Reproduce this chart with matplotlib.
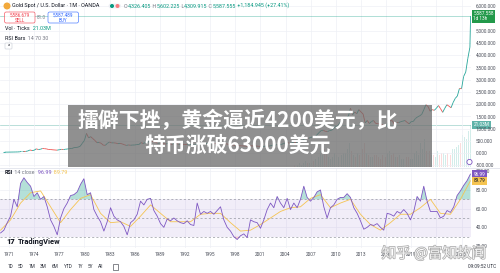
"""Gold spot monthly chart (TradingView style) with RSI pane and a news banner."""

import matplotlib
matplotlib.use("Agg")
import matplotlib.patheffects as pe
import matplotlib.pyplot as plt
import numpy as np
from matplotlib.collections import LineCollection
from matplotlib.patches import Circle, FancyBboxPatch, Rectangle

W, H = 500, 273

# quarterly closes 1970 Q1 .. 2025 Q4
price_close = [
    35.5, 35.5, 36.0, 37.4,
    38.9, 40.1, 42.0, 43.6,
    48.3, 65.0, 65.0, 64.9,
    84.0, 123.0, 103.0, 112.0,
    170.0, 143.0, 152.0, 186.0,
    177.0, 166.0, 141.0, 140.0,
    130.0, 123.0, 116.0, 134.0,
    149.0, 141.0, 154.0, 165.0,
    181.0, 183.0, 218.0, 226.0,
    240.0, 277.0, 397.0, 512.0,
    800.0, 620.0, 667.0, 590.0,
    513.0, 422.0, 428.0, 400.0,
    320.0, 315.0, 397.0, 448.0,
    414.0, 416.0, 405.0, 382.0,
    395.0, 373.0, 341.0, 309.0,
    329.0, 317.0, 326.0, 327.0,
    344.0, 345.0, 424.0, 391.0,
    420.0, 448.0, 460.0, 484.0,
    456.0, 436.0, 396.0, 410.0,
    385.0, 373.0, 367.0, 401.0,
    369.0, 352.0, 408.0, 386.0,
    355.0, 367.0, 354.0, 353.0,
    341.0, 343.0, 349.0, 333.0,
    337.0, 376.0, 355.0, 391.0,
    390.0, 388.0, 395.0, 383.0,
    391.0, 387.0, 384.0, 387.0,
    396.0, 382.0, 379.0, 369.0,
    349.0, 334.0, 332.0, 290.0,
    301.0, 296.0, 294.0, 288.0,
    280.0, 261.0, 299.0, 290.0,
    278.0, 288.0, 273.0, 272.0,
    258.0, 271.0, 293.0, 279.0,
    301.0, 318.0, 323.0, 342.0,
    334.0, 346.0, 388.0, 417.0,
    427.0, 395.0, 415.0, 438.0,
    428.0, 437.0, 473.0, 513.0,
    582.0, 613.0, 599.0, 632.0,
    662.0, 650.0, 743.0, 834.0,
    916.0, 930.0, 884.0, 870.0,
    916.0, 927.0, 1000.0, 1087.0,
    1113.0, 1245.0, 1307.0, 1420.0,
    1439.0, 1500.0, 1830.0, 1565.0,
    1668.0, 1604.0, 1772.0, 1675.0,
    1595.0, 1234.0, 1327.0, 1202.0,
    1283.0, 1327.0, 1211.0, 1199.0,
    1183.0, 1171.0, 1115.0, 1060.0,
    1232.0, 1320.0, 1315.0, 1151.0,
    1249.0, 1241.0, 1279.0, 1302.0,
    1325.0, 1252.0, 1192.0, 1281.0,
    1292.0, 1409.0, 1472.0, 1517.0,
    1577.0, 1768.0, 1970.0, 1898.0,
    1707.0, 1770.0, 1742.0, 1829.0,
    1937.0, 1807.0, 1660.0, 1824.0,
    1969.0, 1912.0, 1849.0, 2063.0,
    2230.0, 2326.0, 2634.0, 2624.0,
    3123.0, 3303.0, 3858.0, 4320.0,
]
last_close = 5587.555  # open Jan 2026 candle

# tick volume (millions), quarterly from 2005 Q1, last entry is Jan 2026
vol_start = 2005
vol_ticks = [
    1, 1, 2, 1, 2, 3, 2, 2, 2, 3, 4, 5, 8, 6, 9, 7,
    5, 4, 5, 7, 6, 5, 6, 7, 7, 9, 12, 8, 6, 5, 7, 6,
    9, 12, 7, 6, 5, 5, 6, 6, 5, 4, 6, 5, 7, 8, 6, 7,
    5, 5, 6, 4, 4, 5, 5, 4, 4, 7, 8, 6, 12, 9, 14, 8,
    8, 6, 6, 5, 8, 6, 7, 7, 6, 7, 6, 9, 9, 10, 11, 12,
    16, 15, 14, 18, 21.03,
]

# RSI(14) read at even steps from Jan 1970 to Jan 2026
rsi_vals = [
    34, 37, 45, 52, 70, 62, 87, 93, 88, 84,
    73, 77, 70, 73, 62, 48, 41, 32, 50, 60,
    66, 74, 75, 78, 86, 92, 75, 77, 59, 52,
    46, 36, 46, 61, 52, 48, 46, 41, 32, 45,
    48, 54, 68, 64, 70, 71, 58, 52, 44, 40,
    49, 47, 50, 47, 45, 44, 47, 43, 42, 66,
    54, 57, 55, 57, 54, 58, 62, 48, 40, 36,
    30, 27, 31, 33, 29, 48,
    46, 45, 39, 48, 59, 66, 61, 73, 66, 61,
    71, 59, 66, 61, 70, 84, 72, 68, 72, 78,
    80, 62, 50, 61, 64, 70, 72, 72, 76, 72,
    61, 55, 47, 38, 40, 43, 42, 44, 40, 37,
    55, 54, 52, 57, 55, 59, 55, 48, 57, 73,
    68, 84, 68, 57, 57, 57, 50, 52, 58, 56,
    62, 74, 79, 85, 90, 96.99,
]
rsi_sma = [
    37, 48, 66, 77, 79, 62, 45, 59, 71, 75, 55, 45, 46,
    41, 52, 64, 55, 46, 46, 46, 54, 55, 55, 45, 36, 37,
    43, 50, 57, 61, 62, 71, 75, 61, 66, 70, 54,
    43, 37, 45, 54, 54, 61, 70, 55, 54, 70, 89.79,
]

year_ticks = list(range(1971, 2026, 3))
price_ticks = [-500, 0, 500, 1000, 1500, 2000, 2500, 3000, 3500, 4000, 4500, 5000, 6000]
rsi_ticks = [20, 40, 60, 80, 100]
ranges = ["1D", "5D", "1M", "3M", "6M", "YTD", "1Y", "5Y", "All"]

title_lines = ["擂僻下挫，黄金逼近4200美元，比", "特币涨破63000美元"]
watermark = "知乎 @富知故闻"

DARK = "#131722"
GREY = "#787b86"
TEAL = "#089981"
UP = "#26a69a"
DOWN = "#ef5350"
RED = "#f23645"
BLUE = "#2962ff"
PURPLE = "#7e57c2"
YELLOW = "#f5c451"
GRID = "#eef0f5"
LEG = 3.9
TICK = 3.4

plt.rcParams["font.family"] = ["Roboto", "DejaVu Sans"]


def frac(x0, y0, x1, y1):
    """Pixel box (top-left origin) -> figure fraction rect."""
    return [x0 / W, 1 - y1 / H, (x1 - x0) / W, (y1 - y0) / H]


def text_run(ax, x, y, parts, size=LEG):
    """Draw several coloured pieces of text one after another."""
    s, c, *rest = parts[0]
    t = ax.text(x, y, s, color=c, fontsize=size, va="center", ha="left",
                fontweight=rest[0] if rest else "normal")
    for s, c, *rest in parts[1:]:
        t = ax.annotate(s, xy=(1, 0), xycoords=t, va="bottom", ha="left", color=c,
                        fontsize=size, fontweight=rest[0] if rest else "normal")
    return t


def side_label(ax, y, s, fc, tc="white"):
    ax.text(1.005, y, s, transform=ax.get_yaxis_transform(), ha="left", va="center",
            fontsize=TICK, color=tc, linespacing=1.0, clip_on=False, zorder=6,
            bbox=dict(boxstyle="square,pad=0.3", fc=fc, ec="none"))


fig = plt.figure(figsize=(W / 100, H / 100), dpi=100)
fig.patch.set_facecolor("white")

x_lim = (1969.93, 2026.13)

# ---- volume (behind the price pane)
ax_vol = fig.add_axes(frac(0, 0, 471, 167))
ax_vol.set_zorder(0)
n_before = (vol_start - 1970) * 4
vol_x, vol_c = [], []
for i, v in enumerate(vol_ticks):
    k = n_before + i
    if k < len(price_close):
        vol_x.append(vol_start + (i + 0.5) / 4)
        up = price_close[k] >= price_close[k - 1]
    else:
        vol_x.append(2026.04)
        up = last_close >= price_close[-1]
    vol_c.append(UP if up else DOWN)
ax_vol.bar(vol_x, vol_ticks, width=0.12, color=vol_c, alpha=0.2, linewidth=0)
ax_vol.axhline(vol_ticks[-1], color="#5fb3a9", lw=0.5, alpha=0.6)
ax_vol.set_xlim(*x_lim)
ax_vol.set_ylim(0, 83.6)
ax_vol.axis("off")

# ---- price pane
ax = fig.add_axes(frac(0, 0, 471, 167))
ax.set_zorder(1)
ax.patch.set_visible(False)
p = np.array(price_close + [last_close])
t = 1970 + (np.arange(len(price_close)) + 1) / 4
t = np.append(t, 2026.08)
pts = np.column_stack([t, p])
segs = np.stack([pts[:-1], pts[1:]], axis=1)
seg_c = [UP if b >= a else DOWN for a, b in zip(p[:-1], p[1:])]
ax.add_collection(LineCollection(segs, colors=seg_c, linewidths=0.6))
ax.axhline(last_close, color=TEAL, lw=0.5, alpha=0.45)
ax.set_xlim(*x_lim)
ax.set_ylim(-571, 6245)
ax.set_xticks(year_ticks)
ax.set_yticks(price_ticks)
ax.set_yticklabels([f"{v:,.3f}" for v in price_ticks])
ax.yaxis.tick_right()
ax.tick_params(axis="x", length=0, labelbottom=False)
ax.tick_params(axis="y", length=0, pad=3.5, labelsize=TICK, labelcolor="#4a4e59")
ax.grid(True, color=GRID, lw=0.5)
ax.set_axisbelow(True)
for sp in ax.spines.values():
    sp.set_visible(False)
side_label(ax, last_close, "5,587.558\n1d 13h", "#22994a")
side_label(ax_vol, vol_ticks[-1], "21.03M", "#5fb3a9")

# ---- RSI pane
ax_rsi = fig.add_axes(frac(0, 168, 471, 248))
rsi_t = np.linspace(1970, 2026.06, len(rsi_vals))
sma_t = np.linspace(1970, 2026.06, len(rsi_sma))
r = np.array(rsi_vals)
ax_rsi.axhspan(30, 70, color=PURPLE, alpha=0.1, lw=0)
for lvl in (70, 50, 30):
    ax_rsi.axhline(lvl, color="#9598a1", lw=0.5, ls=(0, (3, 3)))
ax_rsi.fill_between(rsi_t, r, 70, where=r > 70, interpolate=True, color=TEAL, alpha=0.3, lw=0)
ax_rsi.fill_between(rsi_t, r, 30, where=r < 30, interpolate=True, color=RED, alpha=0.25, lw=0)
ax_rsi.plot(sma_t, rsi_sma, color=YELLOW, lw=0.6)
ax_rsi.plot(rsi_t, r, color=PURPLE, lw=0.6)
ax_rsi.set_xlim(*x_lim)
ax_rsi.set_ylim(17.9, 103.5)
ax_rsi.set_xticks(year_ticks)
ax_rsi.set_xticklabels([str(y) for y in year_ticks])
ax_rsi.set_yticks(rsi_ticks)
ax_rsi.set_yticklabels([f"{v:.2f}" for v in rsi_ticks])
ax_rsi.yaxis.tick_right()
ax_rsi.tick_params(axis="x", length=0, pad=3.0, labelsize=TICK, labelcolor="#4a4e59")
ax_rsi.tick_params(axis="y", length=0, pad=3.5, labelsize=TICK, labelcolor="#4a4e59")
ax_rsi.grid(True, color=GRID, lw=0.5)
ax_rsi.set_axisbelow(True)
for sp in ax_rsi.spines.values():
    sp.set_visible(False)
side_label(ax_rsi, rsi_vals[-1], f"{rsi_vals[-1]:.2f}", PURPLE)
side_label(ax_rsi, rsi_sma[-1], f"{rsi_sma[-1]:.2f}", YELLOW, DARK)

# ---- overlay in pixel coordinates
ov = fig.add_axes([0, 0, 1, 1])
ov.set_zorder(10)
ov.set_xlim(0, W)
ov.set_ylim(H, 0)
ov.axis("off")

ov.plot([0, W], [167.5, 167.5], color="#e0e3eb", lw=0.6)

# legend rows
ov.add_patch(Circle((7, 6), 2.8, color="#f2a93b"))
text_run(ov, 12, 6, [("Gold Spot / U.S. Dollar · 1M · OANDA", DARK)])
ov.add_patch(FancyBboxPatch((108.5, 3.6), 12.5, 4.8, boxstyle="round,pad=0,rounding_size=2.4",
                            fc="#eef0f5", ec="none"))
ov.add_patch(Circle((112, 6), 1.3, color=TEAL))
ov.add_patch(Circle((117.5, 6), 1.3, color="#f77c80"))
text_run(ov, 124, 6, [("O", GREY), ("4,326.405", TEAL), (" H", GREY), ("5,602.225", TEAL),
                      (" L", GREY), ("4,309.915", TEAL), (" C", GREY), ("5,587.555", TEAL),
                      (" +1,184.945 (+27.41%)", TEAL)])

for x0, col, price, side in ((4.5, RED, "5,586.679", "SELL"), (48, BLUE, "5,587.489", "BUY")):
    ov.add_patch(FancyBboxPatch((x0, 12), 30.5, 11, boxstyle="round,pad=0,rounding_size=1.8",
                                fc="white", ec=col, lw=0.5, alpha=0.8))
    ov.text(x0 + 15.25, 15.4, price, color=col, fontsize=3.3, ha="center", va="center")
    ov.text(x0 + 15.25, 20.2, side, color=col, fontsize=3.3, ha="center", va="center")
ov.text(41.3, 17.5, "81.0", color=GREY, fontsize=3.3, ha="center", va="center")

text_run(ov, 5, 29, [("Vol · Ticks", DARK), ("  21.03M", TEAL)])
text_run(ov, 5, 38, [("RSI Bars", DARK), ("  14 70 30", GREY)])
ov.add_patch(FancyBboxPatch((5, 43), 7, 6, boxstyle="round,pad=0,rounding_size=1",
                            fc="white", ec="#d1d4dc", lw=0.5))
ov.text(8.5, 46.8, "^", color=DARK, fontsize=3.8, ha="center", va="center")
ov.add_patch(Circle((469.5, 162), 2.6, fc="white", ec=PURPLE, lw=0.6))

text_run(ov, 5, 172, [("RSI", DARK, "bold"), (" 14 close", GREY), ("  96.99", PURPLE), ("  89.79", YELLOW)])

# TradingView mark
ov.text(6, 242, "17", color=DARK, fontsize=5.4, fontweight="heavy", ha="left", va="center")
ov.text(18, 242, "TradingView", color=DARK, fontsize=5.4, fontweight="bold", ha="left", va="center")

# bottom toolbar
for lab, xc in zip(ranges, [10, 20, 31.5, 43.5, 55, 68, 80, 90.5, 101]):
    ov.text(xc, 267, lab, color="#2a2e39", fontsize=TICK, ha="center", va="center")
ov.add_patch(Rectangle((113, 264), 5, 5.5, fc="none", ec="#2a2e39", lw=0.4))
ov.text(496, 267, "09:09:52 UTC", color="#2a2e39", fontsize=TICK, ha="right", va="center")

# news banner
ov.add_patch(Rectangle((68, 105), 364, 62, fc="#6b6b6b", ec="none", alpha=0.75))
for line, yc in zip(title_lines, (120, 145)):
    ov.text(238, yc, line, color="white", fontsize=15, fontweight="bold",
            family=["Noto Sans CJK SC", "DejaVu Sans"], ha="center", va="center")

# watermark
ov.text(434, 253.5, watermark, color="white", alpha=0.85, fontsize=10.5,
        family=["Noto Sans CJK SC", "DejaVu Sans"], ha="center", va="center",
        path_effects=[pe.withStroke(linewidth=1.0, foreground="#9a9a9a")])

fig.savefig("out.png", dpi=100, facecolor="white")
plt.close(fig)
